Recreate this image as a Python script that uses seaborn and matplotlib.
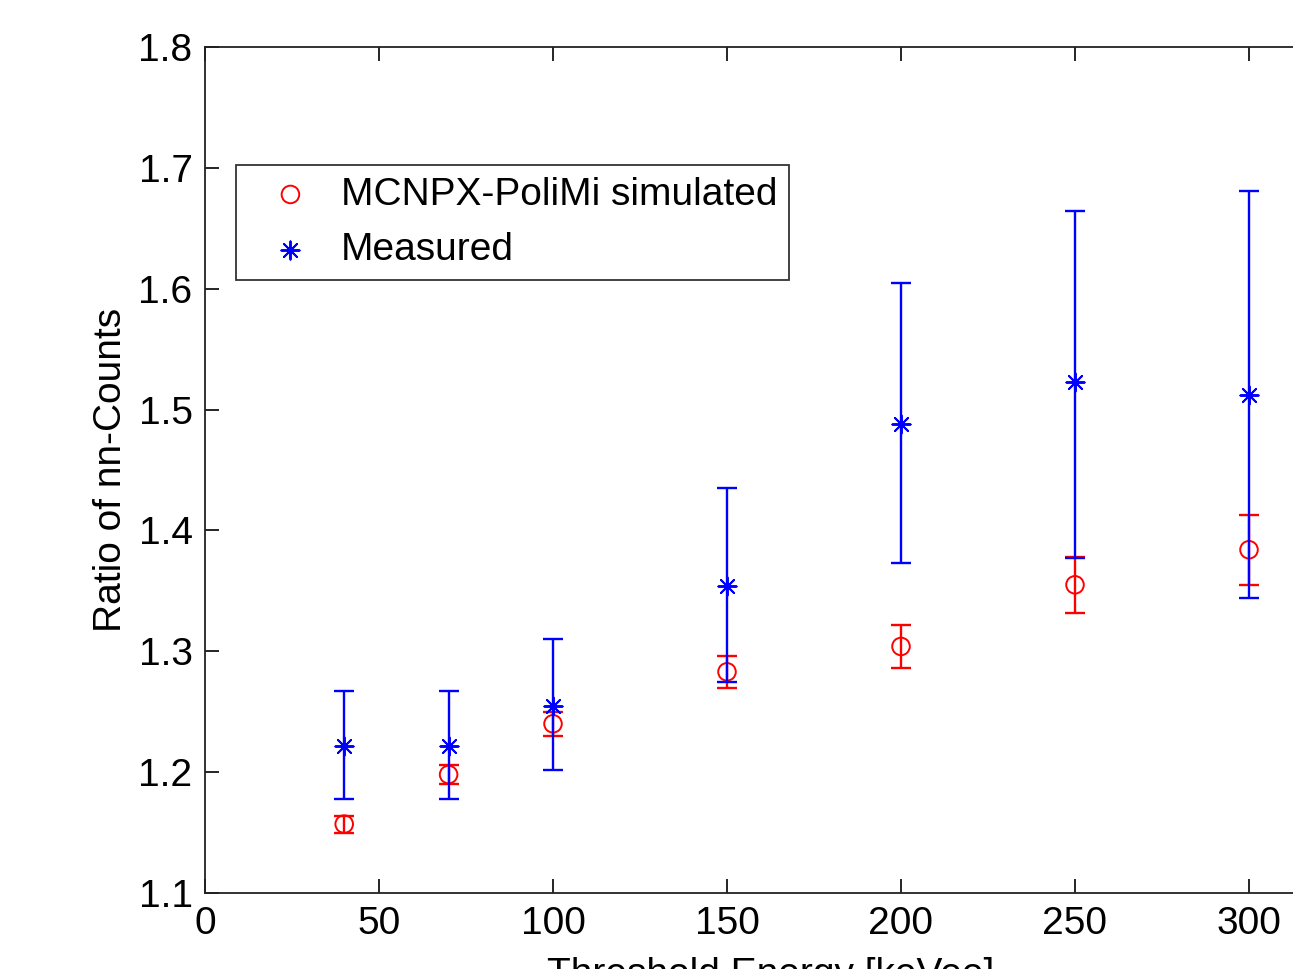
import matplotlib
matplotlib.use("Agg")
import matplotlib.pyplot as plt
import seaborn as sns
import pandas as pd

# threshold energies [keVee]
energy = [40, 70, 100, 150, 200, 250, 300]

# MCNPX-PoliMi simulated ratio and its error
sim_ratio = [1.157, 1.198, 1.240, 1.283, 1.304, 1.355, 1.384]
sim_err = [0.007, 0.008, 0.010, 0.013, 0.018, 0.023, 0.029]

# measured ratio with lower / upper error bar ends
meas_ratio = [1.222, 1.222, 1.255, 1.354, 1.488, 1.523, 1.512]
meas_low = [1.178, 1.178, 1.202, 1.275, 1.373, 1.377, 1.344]
meas_high = [1.267, 1.267, 1.310, 1.435, 1.605, 1.664, 1.681]

xticks = [0, 50, 100, 150, 200, 250, 300]
yticks = [1.1, 1.2, 1.3, 1.4, 1.5, 1.6, 1.7, 1.8]

sns.set_style("ticks")
plt.rcParams['font.family'] = ['Liberation Sans', 'DejaVu Sans']
plt.rcParams['text.color'] = 'black'
plt.rcParams['axes.labelcolor'] = 'black'

df = pd.DataFrame({
    'energy': energy + energy,
    'ratio': sim_ratio + meas_ratio,
    'series': ['MCNPX-PoliMi simulated'] * len(energy) + ['Measured'] * len(energy),
})

fig = plt.figure(figsize=(12.93, 9.69), dpi=100)
# axes run past the right edge of the figure, like the cropped original
ax = fig.add_axes([205 / 1293, 76 / 969, 1131 / 1293, 846 / 969])

# error bars
ax.errorbar(energy, sim_ratio, yerr=sim_err, fmt='none', ecolor='red',
            elinewidth=1.7, capsize=7.5, capthick=1.7, zorder=2)
low = [m - l for m, l in zip(meas_ratio, meas_low)]
high = [h - m for m, h in zip(meas_ratio, meas_high)]
ax.errorbar(energy, meas_ratio, yerr=[low, high], fmt='none', ecolor='blue',
            elinewidth=1.7, capsize=7.5, capthick=1.7, zorder=3)

# markers
sns.scatterplot(data=df[df.series == 'MCNPX-PoliMi simulated'], x='energy', y='ratio',
                ax=ax, marker='o', s=160, facecolor='none', edgecolor='red',
                linewidth=1.4, label='MCNPX-PoliMi simulated', zorder=2)
sns.scatterplot(data=df[df.series == 'Measured'], x='energy', y='ratio',
                ax=ax, marker=(8, 2, 0), s=170, color='blue', edgecolor='blue',
                linewidth=1.4, label='Measured', zorder=4)

ax.set_xlim(0, 325)
ax.set_ylim(1.1, 1.8)
ax.set_xticks(xticks)
ax.set_yticks(yticks)
ax.set_yticklabels([f"{v:.1f}" for v in yticks])
ax.tick_params(direction='in', length=10, width=1.2, labelsize=28, pad=9,
               top=True, right=True, colors='black')
for s in ax.spines.values():
    s.set_linewidth(1.3)
    s.set_color('#222222')

ax.set_xlabel('Threshold Energy [keVee]', fontsize=28, labelpad=11)
ax.set_ylabel('Ratio of nn-Counts', fontsize=28, labelpad=7)

leg = ax.legend(loc='upper left', bbox_to_anchor=(31 / 1131, 1 - 118 / 846),
                fontsize=28, frameon=True, fancybox=False, borderpad=0.3,
                handletextpad=0.2, labelspacing=0.5, handlelength=2.2,
                borderaxespad=0)
leg.get_frame().set_edgecolor('black')
leg.get_frame().set_linewidth(1.3)

fig.savefig('out.png', dpi=100)
